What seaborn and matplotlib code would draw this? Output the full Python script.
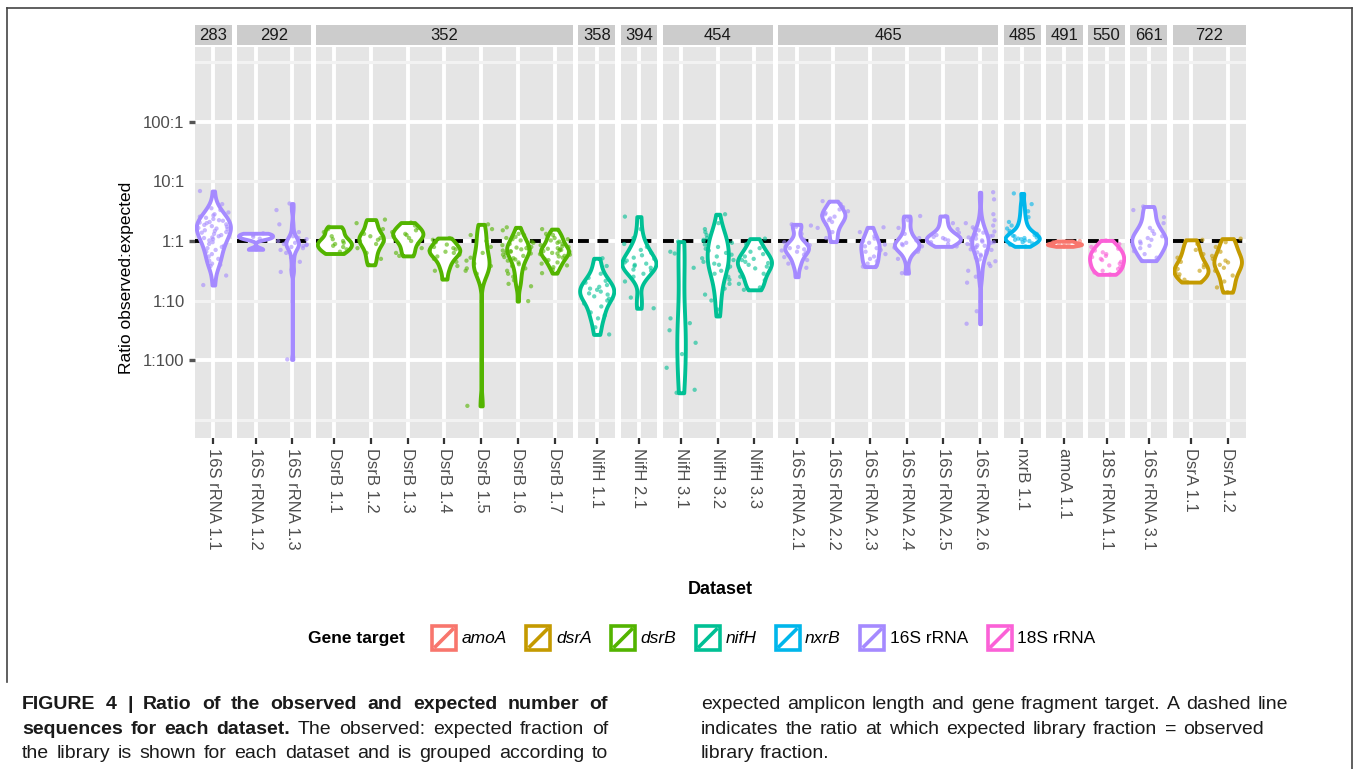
import numpy as np
import pandas as pd
import matplotlib
matplotlib.use("Agg")
import matplotlib.pyplot as plt
import seaborn as sns
from matplotlib.patches import Rectangle
from matplotlib.lines import Line2D
from matplotlib.legend_handler import HandlerBase

# ---------------- data (log10 observed:expected ratio) ----------------
s16_1_1 = [0.84, 0.62, 0.55, 0.52, 0.48, 0.45, 0.43, 0.41, 0.39, 0.37, 0.35, 0.34, 0.32, 0.31, 0.30,
           0.28, 0.27, 0.25, 0.24, 0.22, 0.21, 0.20, 0.18, 0.17, 0.15, 0.14, 0.12, 0.10, 0.08, 0.06,
           0.05, 0.03, 0.01, -0.02, -0.05, -0.08, -0.10, -0.12, -0.15, -0.18, -0.22, -0.26, -0.30,
           -0.33, -0.38, -0.40, -0.42, -0.58, -0.74]
s16_1_2 = [0.13, 0.10, 0.07, 0.04, -0.14]
s16_1_3 = [0.63, 0.52, 0.28, 0.15, 0.08, 0.05, 0.03, 0.01, 0.00, -0.02, -0.03, -0.05, -0.06, -0.07,
           -0.08, -0.10, -0.12, -0.15, -0.20, -0.28, -0.35, -0.48, -0.52, -1.99]
dsrb_1_1 = [0.24, 0.20, 0.15, 0.08, 0.03, 0.00, -0.03, -0.05, -0.08, -0.10, -0.14, -0.18, -0.21]
dsrb_1_2 = [0.36, 0.30, 0.20, 0.12, 0.08, 0.05, 0.02, 0.00, -0.05, -0.12, -0.20, -0.30, -0.40]
dsrb_1_3 = [0.31, 0.26, 0.22, 0.18, 0.15, 0.12, 0.10, 0.08, 0.05, 0.00, -0.05, -0.12, -0.20, -0.25]
dsrb_1_4 = [0.05, 0.02, -0.02, -0.06, -0.10, -0.12, -0.14, -0.16, -0.18, -0.20, -0.23, -0.26, -0.30,
            -0.35, -0.42, -0.50, -0.64]
dsrb_1_5 = [0.28, 0.20, 0.10, 0.00, -0.10, -0.20, -0.28, -0.33, -0.38, -0.42, -0.46, -0.50, -0.55, -2.77]
dsrb_1_6 = [0.23, 0.18, 0.12, 0.10, 0.07, 0.05, 0.03, 0.01, -0.01, -0.03, -0.05, -0.07, -0.08, -0.10,
            -0.11, -0.12, -0.13, -0.14, -0.15, -0.16, -0.17, -0.18, -0.20, -0.21, -0.23, -0.25, -0.27,
            -0.29, -0.31, -0.33, -0.36, -0.39, -0.42, -0.46, -0.50, -0.55, -0.60, -0.66, -0.72, -0.76,
            -1.01]
dsrb_1_7 = [0.20, 0.15, 0.12, 0.10, 0.08, 0.05, 0.03, 0.01, -0.01, -0.03, -0.05, -0.07, -0.09, -0.10,
            -0.12, -0.13, -0.14, -0.15, -0.16, -0.17, -0.18, -0.19, -0.20, -0.21, -0.22, -0.23, -0.25,
            -0.26, -0.28, -0.30, -0.32, -0.34, -0.36, -0.38, -0.41, -0.44, -0.48, -0.54]
nifh_1_1 = [-0.29, -0.42, -0.55, -0.62, -0.67, -0.70, -0.74, -0.77, -0.80, -0.82, -0.85, -0.88, -0.90,
            -0.93, -0.97, -1.00, -1.05, -1.10, -1.20, -1.25, -1.30, -1.45, -1.57]
nifh_2_1 = [0.41, 0.20, 0.05, -0.05, -0.10, -0.15, -0.20, -0.24, -0.28, -0.30, -0.33, -0.36, -0.38,
            -0.40, -0.42, -0.45, -0.48, -0.50, -0.55, -0.60, -0.68, -0.95, -1.13]
nifh_3_1 = [-0.01, -0.18, -0.21, -0.45, -1.30, -1.38, -1.50, -1.71, -1.90, -2.13, -2.50, -2.55]
nifh_3_2 = [0.45, 0.30, 0.20, 0.15, 0.10, 0.05, 0.02, 0.00, -0.03, -0.06, -0.10, -0.13, -0.16, -0.20,
            -0.23, -0.26, -0.29, -0.32, -0.35, -0.38, -0.40, -0.43, -0.46, -0.50, -0.55, -0.60, -0.65,
            -0.72, -0.80, -0.90, -1.00, -1.15, -1.26]
nifh_3_3 = [0.04, -0.05, -0.12, -0.18, -0.22, -0.26, -0.30, -0.32, -0.35, -0.37, -0.40, -0.43, -0.46,
            -0.50, -0.55, -0.60, -0.66, -0.72, -0.78, -0.82]
s16_2_1 = [0.28, 0.26, 0.24, 0.12, 0.02, -0.02, -0.05, -0.07, -0.09, -0.10, -0.12, -0.14, -0.16, -0.18,
           -0.20, -0.23, -0.27, -0.32, -0.38, -0.45, -0.60]
s16_2_2 = [0.67, 0.62, 0.57, 0.53, 0.50, 0.47, 0.45, 0.43, 0.41, 0.38, 0.35, 0.32, 0.28, 0.22, 0.15,
           0.05, -0.01]
s16_2_3 = [0.23, 0.15, 0.08, 0.04, 0.00, -0.03, -0.06, -0.09, -0.12, -0.15, -0.18, -0.22, -0.26, -0.30,
           -0.34, -0.38, -0.41, -0.43]
s16_2_4 = [0.42, 0.35, 0.22, 0.12, 0.05, 0.01, -0.03, -0.05, -0.07, -0.09, -0.11, -0.14, -0.18, -0.30,
           -0.54]
s16_2_5 = [0.42, 0.30, 0.20, 0.14, 0.10, 0.07, 0.05, 0.03, 0.01, -0.02, -0.05, -0.09]
s16_2_6 = [0.82, 0.70, 0.45, 0.35, 0.30, 0.26, 0.23, 0.20, 0.18, 0.16, 0.14, 0.12, 0.10, 0.09, 0.08,
           0.06, 0.05, 0.04, 0.02, 0.01, 0.00, -0.01, -0.02, -0.03, -0.05, -0.06, -0.07, -0.08, -0.10,
           -0.11, -0.12, -0.14, -0.15, -0.17, -0.19, -0.21, -0.23, -0.25, -0.28, -0.31, -0.34, -0.38,
           -0.42, -0.50, -0.55, -0.60, -0.70, -1.18, -1.39]
nxrb_1_1 = [0.80, 0.62, 0.50, 0.40, 0.32, 0.26, 0.21, 0.17, 0.14, 0.12, 0.10, 0.09, 0.08, 0.06, 0.05,
            0.04, 0.03, 0.02, 0.01, 0.00, -0.02, -0.04, -0.06, -0.09]
amoa_1_1 = [0.00, -0.02, -0.04, -0.05, -0.06, -0.07, -0.09]
s18_1_1 = [0.01, -0.05, -0.10, -0.13, -0.16, -0.19, -0.22, -0.25, -0.27, -0.30, -0.32, -0.35, -0.38,
           -0.41, -0.44, -0.47, -0.50, -0.53, -0.56]
s16_3_1 = [0.58, 0.52, 0.40, 0.30, 0.22, 0.17, 0.12, 0.08, 0.05, 0.02, -0.01, -0.04, -0.08, -0.12,
           -0.17, -0.22, -0.28, -0.33]
dsra_1_1 = [0.02, -0.05, -0.15, -0.22, -0.28, -0.35, -0.40, -0.44, -0.47, -0.50, -0.53, -0.56, -0.60,
            -0.65, -0.69]
dsra_1_2 = [0.04, -0.02, -0.10, -0.18, -0.25, -0.30, -0.33, -0.36, -0.40, -0.45, -0.50, -0.58, -0.68,
            -0.78, -0.86]

panel_labels = ["283", "292", "352", "358", "394", "454", "465", "485", "491", "550", "661", "722"]
panel_sets = [
    [("16S rRNA 1.1", "16S rRNA", s16_1_1)],
    [("16S rRNA 1.2", "16S rRNA", s16_1_2), ("16S rRNA 1.3", "16S rRNA", s16_1_3)],
    [("DsrB 1.1", "dsrB", dsrb_1_1), ("DsrB 1.2", "dsrB", dsrb_1_2), ("DsrB 1.3", "dsrB", dsrb_1_3),
     ("DsrB 1.4", "dsrB", dsrb_1_4), ("DsrB 1.5", "dsrB", dsrb_1_5), ("DsrB 1.6", "dsrB", dsrb_1_6),
     ("DsrB 1.7", "dsrB", dsrb_1_7)],
    [("NifH 1.1", "nifH", nifh_1_1)],
    [("NifH 2.1", "nifH", nifh_2_1)],
    [("NifH 3.1", "nifH", nifh_3_1), ("NifH 3.2", "nifH", nifh_3_2), ("NifH 3.3", "nifH", nifh_3_3)],
    [("16S rRNA 2.1", "16S rRNA", s16_2_1), ("16S rRNA 2.2", "16S rRNA", s16_2_2),
     ("16S rRNA 2.3", "16S rRNA", s16_2_3), ("16S rRNA 2.4", "16S rRNA", s16_2_4),
     ("16S rRNA 2.5", "16S rRNA", s16_2_5), ("16S rRNA 2.6", "16S rRNA", s16_2_6)],
    [("nxrB 1.1", "nxrB", nxrb_1_1)],
    [("amoA 1.1", "amoA", amoa_1_1)],
    [("18S rRNA 1.1", "18S rRNA", s18_1_1)],
    [("16S rRNA 3.1", "16S rRNA", s16_3_1)],
    [("DsrA 1.1", "dsrA", dsra_1_1), ("DsrA 1.2", "dsrA", dsra_1_2)],
]
genes = ["amoA", "dsrA", "dsrB", "nifH", "nxrB", "16S rRNA", "18S rRNA"]
gene_colors = ["#F8766D", "#C49A00", "#53B400", "#00C094", "#00B6EB", "#A58AFF", "#FB61D7"]
ytick_major = [-2, 0, 2]
ytick_major_labels = ["1:100", "1:1", "100:1"]
ytick_minor = [-3, -1, 1, 3]
ytick_minor_labels = ["", "1:10", "10:1", ""]

palette = dict(zip(genes, gene_colors))

rows = []
for pl, sets in zip(panel_labels, panel_sets):
    for name, gene, vals in sets:
        for v in vals:
            rows.append({"Length": pl, "Dataset": name, "Gene": gene, "value": v})
df = pd.DataFrame(rows)

# ---------------- styling helpers ----------------
FONT = "Liberation Sans"
plt.rcParams["font.family"] = [FONT, "DejaVu Sans"]

W, H = 1358, 769
fig = plt.figure(figsize=(W / 100, H / 100), dpi=100)
fig.patch.set_facecolor("white")


def fx(px):
    return px / W


def fy(py):
    return 1 - py / H


def nrd0(kde):
    x = np.asarray(kde.dataset).ravel()
    sd = x.std(ddof=1)
    q75, q25 = np.percentile(x, [75, 25])
    lo = min(sd, (q75 - q25) / 1.34)
    if lo <= 0:
        lo = sd if sd > 0 else 1.0
    bw = 0.9 * lo * len(x) ** -0.2
    return bw / sd if sd > 0 else 1.0


P_LEFT, P_RIGHT, P_TOP, P_BOTTOM = 195, 1246, 47, 438
GAP = 5.5
ncat = [len(s) for s in panel_sets]
unit = (P_RIGHT - P_LEFT - GAP * (len(panel_sets) - 1)) / sum(ncat)

np.random.seed(7)
x0 = P_LEFT
for i, (pl, sets) in enumerate(zip(panel_labels, panel_sets)):
    n = len(sets)
    w = n * unit
    ax = fig.add_axes([fx(x0), fy(P_BOTTOM), w / W, (P_BOTTOM - P_TOP) / H])
    order = [s[0] for s in sets]
    sub = df[df["Length"] == pl]

    ax.axhline(0, color="black", lw=2.8, ls=(0, (2.8, 2.2)), zorder=1.5)

    sns.stripplot(data=sub, x="Dataset", y="value", hue="Gene", order=order, palette=palette,
                  jitter=0.43, size=3.1, alpha=0.6, linewidth=0, dodge=False, legend=False,
                  ax=ax, zorder=3)
    nb = len(ax.collections)
    sns.violinplot(data=sub, x="Dataset", y="value", hue="Gene", order=order, palette=palette,
                   cut=0, inner=None, width=0.93, density_norm="area", common_norm=True,
                   bw_method=nrd0, saturation=1, linewidth=2.8, dodge=False, legend=False, ax=ax)
    for coll in ax.collections[nb:]:
        fc = coll.get_facecolor()[0]
        coll.set_edgecolor(fc)
        coll.set_facecolor((1, 1, 1, 1))
        coll.set_zorder(2)

    ax.set_facecolor("#E5E5E5")
    for s in ax.spines.values():
        s.set_visible(False)
    ax.set_xlim(-0.5, n - 0.5)
    ax.set_ylim(-3.31, 3.26)
    ax.set_xlabel("")
    ax.set_ylabel("")
    ax.set_yticks(ytick_major)
    ax.set_yticks(ytick_minor, minor=True)
    ax.set_axisbelow(True)
    ax.grid(True, which="major", axis="both", color="white", lw=2.8)
    ax.grid(True, which="minor", axis="y", color="#F2F2F2", lw=2.2)
    ax.grid(False, which="minor", axis="x")
    ax.set_xticks(range(n))
    ax.set_xticklabels(order, rotation=-90, fontsize=12, color="#4D4D4D")
    ax.tick_params(axis="x", length=4.5, width=1.6, color="#333333", pad=3)
    if i == 0:
        ax.set_yticklabels(ytick_major_labels, fontsize=12, color="#4D4D4D")
        ax.set_yticklabels(ytick_minor_labels, minor=True, fontsize=12, color="#4D4D4D")
        ax.tick_params(axis="y", which="major", length=4.5, width=2.4, color="#555555", pad=3)
        ax.tick_params(axis="y", which="minor", length=0, pad=7.5)
    else:
        ax.tick_params(axis="y", which="both", left=False, labelleft=False)

    sax = fig.add_axes([fx(x0), fy(45), w / W, 20 / H])
    sax.set_facecolor("#CCCCCC")
    sax.set_xticks([])
    sax.set_yticks([])
    for s in sax.spines.values():
        s.set_visible(False)
    sax.text(0.5, 0.5, pl, ha="center", va="center", fontsize=12, color="#1A1A1A",
             transform=sax.transAxes)
    x0 += w + GAP

fig.text(fx(126), fy(278), "Ratio observed:expected", rotation=90, ha="center", va="center",
         fontsize=12.5, color="black")
fig.text(fx((P_LEFT + P_RIGHT) / 2), fy(590), "Dataset", ha="center", va="center",
         fontsize=13, weight="bold")


# ---------------- legend ----------------
class ViolinKey(HandlerBase):
    def create_artists(self, legend, orig_handle, xdescent, ydescent, width, height, fontsize, trans):
        col = orig_handle.get_edgecolor()
        side = min(width, height)
        x0_ = -xdescent + (width - side) / 2 + 1.5
        y0_ = -ydescent + (height - side) / 2 + 1.5
        s = side - 3
        r = Rectangle((x0_, y0_), s, s, facecolor="white", edgecolor=col, lw=2.6, transform=trans)
        ln = Line2D([x0_ + 2.5, x0_ + s - 2.5], [y0_ + 2.5, y0_ + s - 2.5],
                    color=col, lw=2.6, transform=trans)
        return [r, ln]


handles = [Rectangle((0, 0), 1, 1, facecolor="white", edgecolor=c) for c in gene_colors]
fig.text(fx(308), fy(638), "Gene target", ha="left", va="center", fontsize=12.5, weight="bold")
leg = fig.legend(handles, genes, loc="center left", bbox_to_anchor=(fx(430), fy(638)), ncol=7,
                 frameon=False, handlelength=1.62, handleheight=2.25, handletextpad=0.2,
                 columnspacing=1.0, fontsize=12.5, borderpad=0, borderaxespad=0,
                 handler_map={Rectangle: ViolinKey()})
for t in leg.get_texts():
    if "rRNA" not in t.get_text():
        t.set_style("italic")

# ---------------- caption ----------------
renderer = fig.canvas.get_renderer()
CAP_FS = 14
CAP_COLOR = "#1A1A1A"


def place_line(words, xa, xb, ybase, justify=True):
    texts = []
    for wd, bold in words:
        t = fig.text(0, fy(ybase), wd, fontsize=CAP_FS, weight="bold" if bold else "normal",
                     ha="left", va="baseline", color=CAP_COLOR)
        texts.append(t)
    widths = [t.get_window_extent(renderer).width for t in texts]
    if justify and len(words) > 1:
        space = (xb - xa - sum(widths)) / (len(words) - 1)
    else:
        space = 0.278 * CAP_FS * 100 / 72
    x = xa
    for t, wd in zip(texts, widths):
        t.set_x(fx(x))
        x += wd + space


def words_of(s, bold):
    return [(w, bold) for w in s.split()]


place_line(words_of("FIGURE 4 | Ratio of the observed and expected number of", True), 22, 608, 709)
place_line(words_of("sequences for each dataset.", True)
           + words_of("The observed: expected fraction of", False), 22, 608, 734)
place_line(words_of("the library is shown for each dataset and is grouped according to", False),
           22, 608, 758)
place_line(words_of("expected amplicon length and gene fragment target. A dashed line", False),
           701, 1288, 709)
place_line(words_of("indicates the ratio at which expected library fraction = observed", False),
           701, 1264, 734)
place_line(words_of("library fraction.", False), 701, 1288, 758, justify=False)

# ---------------- frame ----------------
for xs, ys in [([7, 1352], [8, 8]), ([7, 7], [8, 682]), ([1352, 1352], [8, 769])]:
    fig.add_artist(Line2D([fx(v) for v in xs], [fy(v) for v in ys], color="#444444", lw=1.2))

fig.savefig("out.png", dpi=100)
